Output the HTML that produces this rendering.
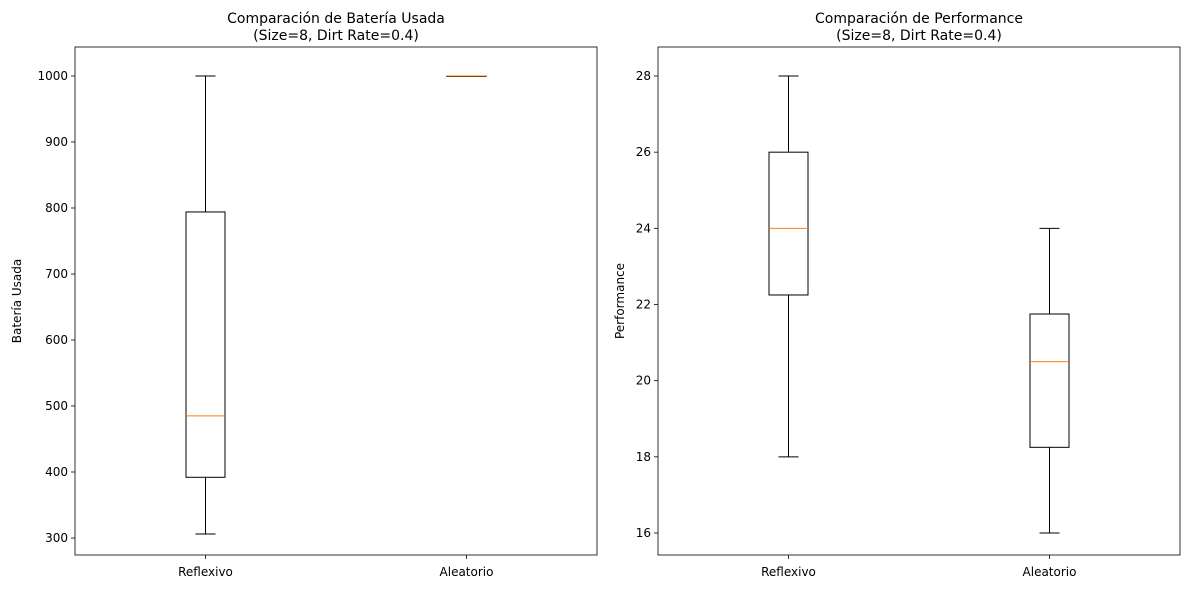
<!DOCTYPE html>
<html><head><meta charset="utf-8"><style>
body{margin:0;background:#fff;font-family:"Liberation Sans","DejaVu Sans",sans-serif;}
svg text{font-family:"DejaVu Sans","Liberation Sans",sans-serif;}
</style></head><body>
<svg id="chart" width="1185" height="589" viewBox="0 0 1185 589" xmlns="http://www.w3.org/2000/svg"></svg>
<script>
const categories = ["Reflexivo", "Aleatorio"];
// [whiskerLow, q1, median, q3, whiskerHigh]
const batteryStats = [[306, 392, 485, 794, 1000], [1000, 1000, 1000, 1000, 1000]];
const perfStats = [[18, 22.25, 24, 26, 28], [16, 18.25, 20.5, 21.75, 24]];
const batteryTicks = [300, 400, 500, 600, 700, 800, 900, 1000];
const perfTicks = [16, 18, 20, 22, 24, 26, 28];

const svg = document.getElementById('chart');
const NS = 'http://www.w3.org/2000/svg';
function mk(tag, attrs, parent){const e=document.createElementNS(NS,tag);for(const k in attrs)e.setAttribute(k,attrs[k]);(parent||svg).appendChild(e);return e;}

function panel(cfg){
  const g = mk('g', {});
  
  
  const {x0,x1,y0,y1,dmin,dmax} = cfg;
  const ty0 = cfg.tpx0, ty1 = cfg.tpx1;
  const y = v => ty0 + (v - dmin) * (ty1 - ty0) / (dmax - dmin);
  const n = categories.length;
  const xc = i => x0 + (x1 - x0) * (i + 0.5) / n;
  cfg.ticks.forEach(t=>{
    const l=mk('line',{x1:x0-4,x2:x0,y1:y(t),y2:y(t),stroke:'#000','stroke-width':0.8},g);
     
    const tx=mk('text',{x:x0-7,y:y(t)+4,'text-anchor':'end','font-size':12},g);
    tx.textContent=t;
     
  });
  categories.forEach((c,i)=>{
    const cx=xc(i);
    mk('line',{x1:cx,x2:cx,y1:y1,y2:y1+4,stroke:'#000','stroke-width':0.8},g);
    const tx=mk('text',{x:cx,y:y1+21,'text-anchor':'middle','font-size':12},g);
    tx.textContent=c;
     
    const s=cfg.stats[i], hw=19.5, cw=10;
    const bg=mk('g',{},g);
    
    
    mk('line',{x1:cx,x2:cx,y1:y(s[0]),y2:y(s[1]),stroke:'#000'},bg);
    mk('line',{x1:cx,x2:cx,y1:y(s[3]),y2:y(s[4]),stroke:'#000'},bg);
    mk('line',{x1:cx-cw,x2:cx+cw,y1:y(s[0]),y2:y(s[0]),stroke:'#000'},bg);
    mk('line',{x1:cx-cw,x2:cx+cw,y1:y(s[4]),y2:y(s[4]),stroke:'#000'},bg);
    mk('rect',{x:cx-hw,y:y(s[3]),width:2*hw,height:Math.max(0.5,y(s[1])-y(s[3])),fill:'none',stroke:'#000'},bg);
    mk('line',{x1:cx-hw,x2:cx+hw,y1:y(s[2]),y2:y(s[2]),stroke:'#ff7f0e'},bg);
  });
  const fr=mk('rect',{x:x0,y:y0,width:x1-x0,height:y1-y0,fill:'none',stroke:'#000','stroke-width':0.8},g);
   
  const t1=mk('text',{x:(x0+x1)/2,y:y0-24,'text-anchor':'middle','font-size':14},g);
  t1.textContent=cfg.title;
   
  const t2=mk('text',{x:(x0+x1)/2,y:y0-7,'text-anchor':'middle','font-size':14},g);
  t2.textContent='(Size=8, Dirt Rate=0.4)';
   
  const yl=mk('text',{x:0,y:0,'text-anchor':'middle','font-size':12,transform:`translate(${cfg.ylx},${(y0+y1)/2}) rotate(-90)`},g);
  yl.textContent=cfg.ylabel;
   
}
panel({name:'battery-panel',x0:75,x1:597,y0:47,y1:555,dmin:300,dmax:1000,tpx0:538,tpx1:76,stats:batteryStats,ticks:batteryTicks,title:'Comparación de Batería Usada',ylabel:'Batería Usada',ylx:21});
panel({name:'performance-panel',x0:658,x1:1180,y0:47,y1:555,dmin:16,dmax:28,tpx0:533,tpx1:76,stats:perfStats,ticks:perfTicks,title:'Comparación de Performance',ylabel:'Performance',ylx:624});
</script>
</body></html>
